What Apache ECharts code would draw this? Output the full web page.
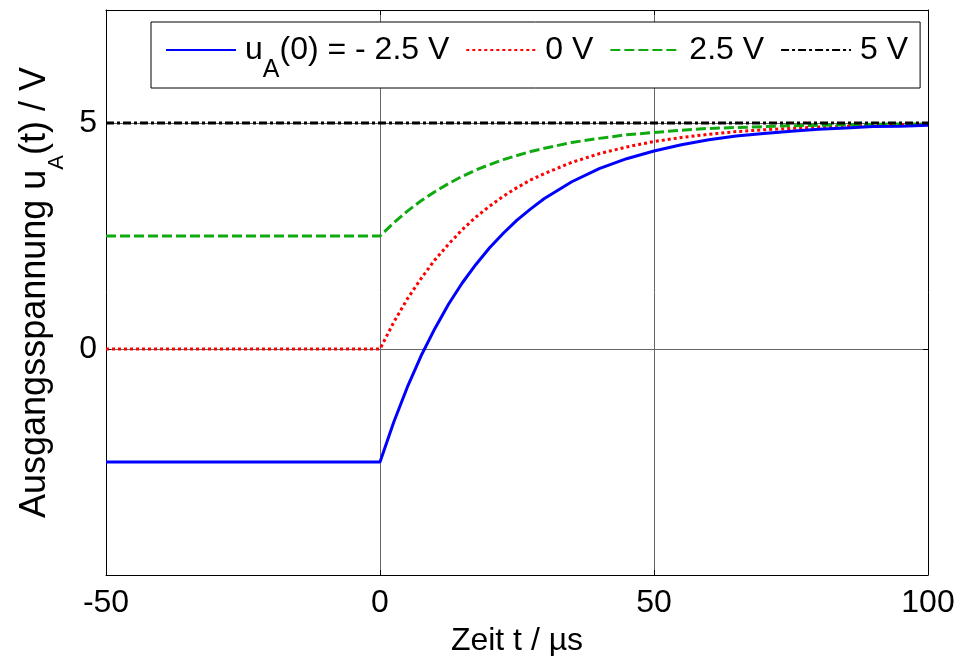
<!DOCTYPE html>
<html>
<head>
<meta charset="utf-8">
<script src="https://cdn.jsdelivr.net/npm/echarts@6/dist/echarts.min.js"></script>
<style>
html, body { margin: 0; padding: 0; background: #fff; }
#main { width: 973px; height: 656px; }
</style>
</head>
<body>
<div id="main"></div>
<script>
var zeit = [-50, 0, 2.5, 5, 7.5, 10, 12.5, 15, 17.5, 20, 22.5, 25, 27.5, 30, 35, 40, 45, 50, 55, 60, 65, 70, 75, 80, 85, 90, 95, 100];
var uMinus25 = [-2.5, -2.5, -1.62, -0.84, -0.15, 0.45, 0.99, 1.46, 1.87, 2.24, 2.56, 2.85, 3.10, 3.33, 3.70, 3.99, 4.21, 4.38, 4.52, 4.63, 4.71, 4.77, 4.82, 4.86, 4.89, 4.92, 4.93, 4.95];
var uNull = [0, 0, 0.59, 1.11, 1.56, 1.97, 2.32, 2.64, 2.92, 3.16, 3.38, 3.57, 3.74, 3.88, 4.13, 4.32, 4.47, 4.59, 4.68, 4.75, 4.81, 4.85, 4.88, 4.91, 4.93, 4.94, 4.96, 4.97];
var uPlus25 = [2.5, 2.5, 2.79, 3.05, 3.28, 3.48, 3.66, 3.82, 3.96, 4.08, 4.19, 4.28, 4.37, 4.44, 4.57, 4.66, 4.74, 4.79, 4.84, 4.88, 4.90, 4.92, 4.94, 4.95, 4.96, 4.97, 4.98, 4.98];
var uFuenf = [5, 5, 5, 5, 5, 5, 5, 5, 5, 5, 5, 5, 5, 5, 5, 5, 5, 5, 5, 5, 5, 5, 5, 5, 5, 5, 5, 5];

var namen = ['m25', 'n0', 'p25', 'p5'];
var legendText = {
	m25: '{n|u}{s|A}{n|(0) = - 2.5 V}',
	n0: '{n|0 V}',
	p25: '{n|2.5 V}',
	p5: '{n|5 V}'
};

function paare(werte) {
	return zeit.map(function (t, i) { return [t, werte[i]]; });
}

var font = 'Liberation Sans';
var myChart = echarts.init(document.getElementById('main'));

myChart.setOption({
	animation: false,
	textStyle: { fontFamily: font },
	grid: { left: 106, right: 45, top: 10, bottom: 81, outerBoundsMode: 'none', containLabel: false },

	legend: {
		data: namen,
		left: 151,
		top: 22,
		padding: [12, 12, 5, 14],
		itemGap: 16,
		itemWidth: 70,
		itemHeight: 14,
		borderColor: '#000',
		borderWidth: 1,
		backgroundColor: '#fff',
		itemStyle: { opacity: 0 },
		formatter: function (name) { return legendText[name]; },
		textStyle: {
			padding: [0, 0, 0, 4],
			rich: {
				n: { fontSize: 32, fontFamily: font, color: '#000', lineHeight: 36 },
				s: { fontSize: 25, fontFamily: font, color: '#000', padding: [41, 0, 0, 0] }
			}
		}
	},

	xAxis: [
		{
			type: 'value',
			min: -50,
			max: 100,
			interval: 50,
			name: 'Zeit t / \u00b5s',
			nameLocation: 'middle',
			nameGap: 50,
			nameTextStyle: { fontSize: 32, color: '#000', fontFamily: font, verticalAlign: 'top' },
			axisLine: { onZero: false, lineStyle: { color: '#000', width: 1 } },
			axisTick: { inside: true, length: 5, lineStyle: { color: '#000' } },
			axisLabel: { fontSize: 32, color: '#000', margin: 12 },
			splitLine: { show: true, lineStyle: { color: '#666', width: 1 } }
		},
		{
			type: 'value',
			position: 'top',
			min: -50,
			max: 100,
			interval: 50,
			axisLine: { onZero: false, lineStyle: { color: '#000', width: 1 } },
			axisTick: { inside: true, length: 5, lineStyle: { color: '#000' } },
			axisLabel: { show: false },
			splitLine: { show: false }
		}
	],

	yAxis: [
		{
			type: 'value',
			min: -5,
			max: 7.5,
			interval: 5,
			name: '{n|Ausgangsspannung u}{s|A}{n|(t) / V}',
			nameLocation: 'middle',
			nameGap: 35,
			nameTextStyle: {
				color: '#000',
				fontFamily: font,
				rich: {
					n: { fontSize: 36, fontFamily: font, color: '#000', lineHeight: 38 },
					s: { fontSize: 22, fontFamily: font, color: '#000', padding: [45, 0, 0, 0] }
				}
			},
			axisLine: { onZero: false, lineStyle: { color: '#000', width: 1 } },
			axisTick: { inside: true, length: 5, lineStyle: { color: '#000' } },
			axisLabel: {
				fontSize: 32,
				color: '#000',
				margin: 9,
				formatter: function (v) { return (v === 0 || v === 5) ? String(v) : ''; }
			},
			splitLine: {
				show: true,
				lineStyle: { color: '#666', width: 1 }
			}
		},
		{
			type: 'value',
			position: 'right',
			min: -5,
			max: 7.5,
			interval: 5,
			axisLine: { onZero: false, lineStyle: { color: '#000', width: 1 } },
			axisTick: { inside: true, length: 5, lineStyle: { color: '#000' } },
			axisLabel: { show: false },
			splitLine: { show: false }
		}
	],

	series: [
		{
			name: 'm25',
			type: 'line',
			symbol: 'none',
			data: paare(uMinus25),
			lineStyle: { color: '#0000ff', width: 3, type: 'solid' },
			itemStyle: { color: '#0000ff' },
			z: 4
		},
		{
			name: 'n0',
			type: 'line',
			symbol: 'none',
			data: paare(uNull),
			lineStyle: { color: '#ff0000', width: 3, type: [3, 3] },
			itemStyle: { color: '#ff0000' },
			z: 3
		},
		{
			name: 'p25',
			type: 'line',
			symbol: 'none',
			data: paare(uPlus25),
			lineStyle: { color: '#10aa10', width: 3, type: [10, 4] },
			itemStyle: { color: '#10aa10' },
			z: 3
		},
		{
			name: 'p5',
			type: 'line',
			symbol: 'none',
			data: paare(uFuenf),
			lineStyle: { color: '#000', width: 3, type: [8, 3, 3, 3] },
			itemStyle: { color: '#000' },
			z: 5
		}
	]
});
</script>
</body>
</html>
